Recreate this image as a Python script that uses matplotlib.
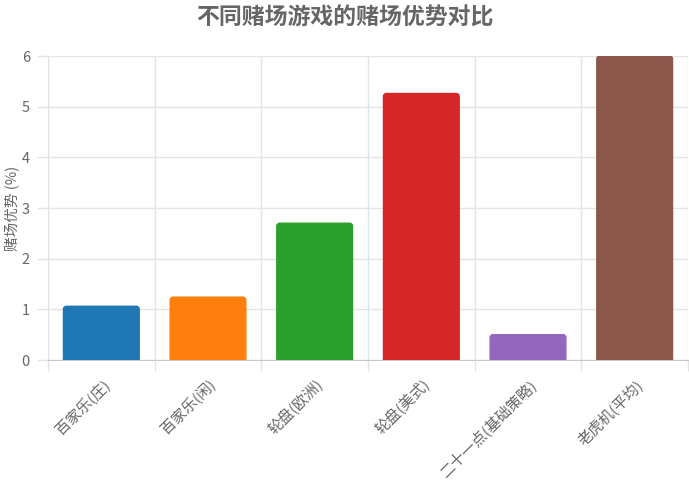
import matplotlib
matplotlib.use("Agg")
import matplotlib.pyplot as plt
from matplotlib.patches import FancyBboxPatch
from matplotlib.ticker import FixedLocator
import numpy as np

plt.rcParams['font.family'] = ['Noto Sans CJK SC', 'DejaVu Sans']

categories = ["百家乐(庄)", "百家乐(闲)", "轮盘(欧洲)", "轮盘(美式)", "二十一点(基础策略)", "老虎机(平均)"]
values = [1.06, 1.24, 2.70, 5.26, 0.50, 6.00]
colors = ["#1f77b4", "#ff7f0e", "#2ca02c", "#d62728", "#9467bd", "#8c564b"]
yticks = [0, 1, 2, 3, 4, 5, 6]
title = "不同赌场游戏的赌场优势对比"
ylabel = "赌场优势 (%)"

W, H = 689, 493
fig = plt.figure(figsize=(W / 100, H / 100), dpi=100)
L, R, T, B = 48, 688, 56, 360
ax = fig.add_axes([L / W, 1 - B / H, (R - L) / W, (B - T) / H])

x = np.arange(len(categories))
bars = ax.bar(x, values, width=0.71, color=colors)
ax.set_xlim(-0.5, len(categories) - 0.5)
ax.set_ylim(0, 6)

# rounded corners
xpp = (len(categories)) / (R - L)
ypp = 6 / (B - T)
r = 3 * xpp
for b, c in zip(bars, colors):
    b.set_visible(False)
    bx, by, bw, bh = b.get_x(), b.get_y(), b.get_width(), b.get_height()
    p = FancyBboxPatch((bx, by - 4 * ypp), bw, bh + 4 * ypp,
                       boxstyle=f"round,pad=0,rounding_size={r}",
                       mutation_aspect=ypp / xpp,
                       facecolor=c, edgecolor=c, linewidth=1, zorder=3)
    p.set_clip_on(True)
    ax.add_patch(p)

grid_c = "#e4e4e4"
ax.set_yticks(yticks)
ax.set_yticklabels([str(v) for v in yticks])
ax.yaxis.grid(True, color=grid_c, linewidth=1)
ax.set_xticks(x)
ax.set_xticklabels(categories, rotation=45, ha="right", va="top", rotation_mode="anchor")
ax.xaxis.set_minor_locator(FixedLocator(np.arange(-0.5, len(categories), 1.0)))
ax.xaxis.grid(True, which="minor", color=grid_c, linewidth=1)
ax.set_axisbelow(True)
ax.tick_params(axis="x", which="major", length=0, pad=12, labelsize=10.8, colors="#666666")
ax.tick_params(axis="x", which="minor", length=8, color=grid_c, width=1)
ax.tick_params(axis="y", length=8, color=grid_c, width=1, pad=5, labelsize=10.5, labelcolor="#666666")

for s in ["top", "right"]:
    ax.spines[s].set_visible(False)
ax.spines["left"].set_color(grid_c)
ax.spines["bottom"].set_color("#c8c8c8")

fig.text(12 / W, 1 - 208 / H, ylabel, rotation=90, ha="center", va="center", fontsize=10.5, color="#666666")
fig.text(0.5, 1 - 18 / H, title, ha="center", va="center", fontsize=16.5, fontweight="bold", color="#666666")

fig.savefig("out.png", dpi=100)
